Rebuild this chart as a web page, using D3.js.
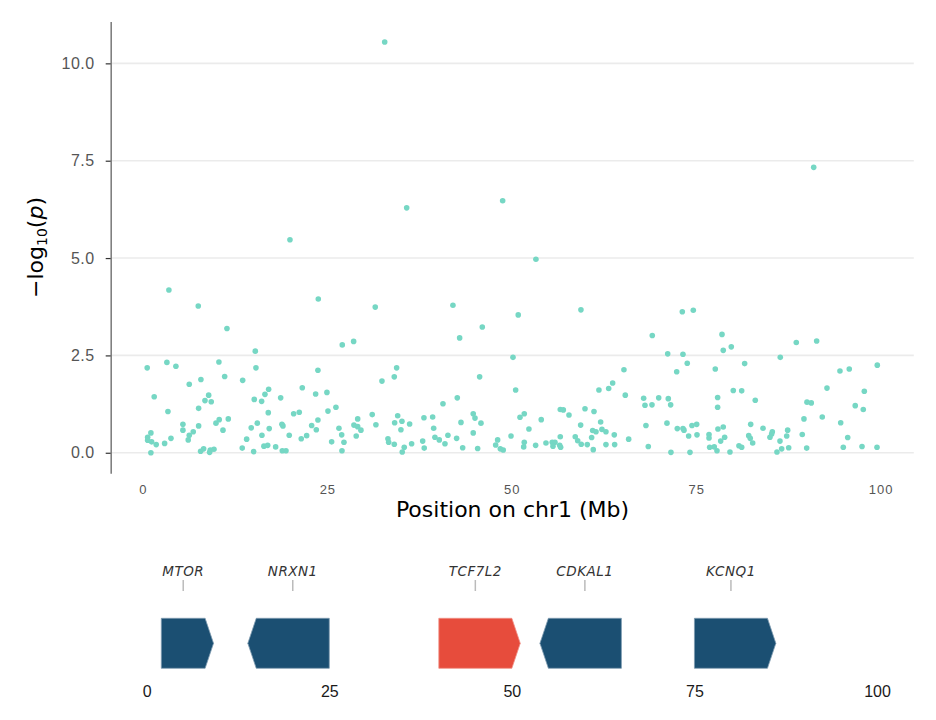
<!DOCTYPE html>
<html>
<head>
<meta charset="utf-8">
<script src="https://cdn.jsdelivr.net/npm/d3@7"></script>
<style>
  body { margin: 0; background: #fff; }
  svg { font-family: "DejaVu Sans", sans-serif; display: block; }
</style>
</head>
<body>
<svg id="chart" width="936" height="720"></svg>
<script>
// SNP positions (Mb) and -log10(p)
var posMb = [
  0.58, 3.25, 4.47, 1.53, 3.39, 6.28, 7.86, 10.30, 11.08, 8.91, 8.41, 9.26, 7.55, 5.42, 5.42, 6.82, 6.28, 7.55, 6.14, 0.64,
  1.08, 0.64, 1.18, 1.80, 2.94, 3.80, 1.08, 7.82, 8.23, 9.04, 9.13, 9.63, 9.90, 10.34, 10.85, 11.57, 13.52, 15.23, 15.32, 15.09,
  16.09, 16.54, 17.04, 16.99, 15.50, 14.68, 14.06, 13.46, 15.01, 16.13, 17.12, 16.40, 16.91, 17.99, 18.89, 19.39, 19.83, 18.84, 18.98, 18.67,
  20.43, 21.19, 21.46, 22.19, 21.60, 23.41, 23.72, 23.72, 22.87, 23.50, 27.02, 28.56, 42.93, 50.16, 24.94, 25.08, 26.16, 25.58, 26.57, 26.94,
  27.25, 26.98, 29.11, 28.60, 29.11, 29.55, 28.91, 31.08, 31.58, 32.40, 34.07, 34.39, 34.53, 34.12, 35.11, 34.97, 36.15, 33.21, 33.31, 34.07,
  35.42, 35.15, 36.42, 38.09, 39.27, 39.41, 37.92, 38.13, 39.58, 40.17, 40.94, 41.34, 40.67, 42.61, 43.11, 42.52, 43.34, 44.77, 45.01, 45.82,
  44.77, 45.37, 45.64, 47.81, 48.08, 48.44, 48.84, 49.89, 50.52, 51.11, 69.04, 51.69, 52.32, 51.69, 51.61, 53.23, 53.99, 54.63, 55.48, 55.85,
  55.58, 56.57, 56.49, 56.62, 56.57, 56.98, 57.75, 58.60, 58.93, 59.41, 60.23, 59.33, 59.92, 61.14, 60.82, 61.04, 60.96, 61.41, 62.04, 62.22,
  62.76, 62.76, 63.89, 63.94, 65.84, 61.81, 63.13, 63.67, 65.20, 65.38, 67.87, 68.05, 69.00, 69.91, 71.21, 71.53, 68.18, 68.50, 71.03, 71.57,
  72.43, 73.20, 73.34, 73.97, 74.42, 75.06, 75.10, 74.15, 76.73, 76.73, 76.82, 77.81, 77.94, 71.13, 73.20, 73.78, 72.35, 77.58, 77.90, 77.90,
  78.49, 78.66, 79.75, 88.56, 91.32, 86.39, 81.56, 80.02, 81.16, 83.00, 82.38, 84.05, 78.66, 78.85, 78.31, 77.44, 79.57, 80.79, 81.16, 82.11,
  82.32, 82.65, 85.31, 85.22, 84.99, 86.35, 86.58, 85.94, 87.26, 87.39, 87.53, 89.37, 89.60, 90.01, 90.59, 92.08, 92.72, 89.97, 94.48, 95.74,
  99.54, 97.78, 96.55, 97.64, 94.58, 95.53, 94.93, 97.47, 99.50,
  3.52, 7.50, 11.39, 19.93, 23.77, 31.49, 32.77, 35.75, 42.02, 46.00, 48.76, 50.87, 53.27, 59.37, 73.11, 74.60, 90.92
];
var logP = [
  2.18, 2.32, 2.22, 1.44, 1.06, 1.76, 1.88, 2.33, 1.96, 1.48, 1.34, 1.31, 1.14, 0.73, 0.58, 0.54, 0.45, 0.69, 0.33, 0.40,
  0.51, 0.32, 0.28, 0.21, 0.24, 0.37, 0.00, 0.04, 0.10, 0.01, 0.07, 0.09, 0.76, 0.85, 0.58, 0.87, 1.86, 2.61, 2.18, 1.37,
  1.32, 1.50, 1.63, 1.03, 0.76, 0.64, 0.35, 0.12, 0.03, 0.45, 0.62, 0.17, 0.19, 0.15, 0.05, 0.05, 0.45, 0.73, 0.69, 1.41,
  1.00, 1.04, 0.36, 0.44, 1.67, 1.51, 2.12, 0.84, 0.70, 0.59, 2.77, 2.86, 2.95, 2.45, 1.55, 1.07, 1.17, 0.28, 0.63, 0.46,
  0.27, 0.05, 0.87, 0.71, 0.67, 0.58, 0.43, 0.98, 0.72, 1.84, 1.95, 2.18, 0.95, 0.77, 0.81, 0.59, 0.74, 0.36, 0.27, 0.22,
  0.14, 0.02, 0.23, 0.90, 0.92, 0.63, 0.30, 0.12, 0.40, 0.33, 0.23, 0.45, 1.26, 1.41, 0.78, 0.37, 0.13, 1.00, 0.89, 0.76,
  0.51, 0.11, 1.95, 0.20, 0.33, 0.10, 0.07, 0.43, 1.61, 0.91, 3.01, 1.00, 0.61, 0.27, 0.15, 0.19, 0.85, 0.25, 0.27, 0.27,
  0.17, 0.41, 0.19, 0.14, 1.11, 1.10, 0.97, 0.41, 0.31, 0.22, 0.21, 0.71, 1.13, 1.06, 0.39, 0.08, 0.57, 0.54, 0.79, 0.60,
  0.54, 0.21, 0.46, 0.21, 0.35, 1.61, 1.65, 1.79, 2.13, 1.48, 1.40, 1.22, 1.23, 1.41, 1.39, 1.23, 0.70, 0.16, 0.76, 0.01,
  0.62, 0.62, 0.58, 0.43, 0.70, 0.73, 0.46, 0.01, 0.47, 0.38, 0.14, 0.05, 0.61, 2.54, 2.53, 2.30, 2.08, 2.15, 1.42, 1.17,
  3.04, 2.63, 2.72, 2.83, 2.87, 2.45, 2.29, 1.60, 1.59, 1.35, 0.73, 0.63, 0.66, 0.40, 0.30, 0.15, 0.02, 0.18, 0.14, 0.44,
  0.37, 0.25, 0.54, 0.48, 0.40, 0.30, 0.10, 0.02, 0.43, 0.58, 0.13, 0.47, 0.87, 1.30, 1.28, 0.92, 1.66, 0.12, 2.10, 2.15,
  2.25, 1.58, 1.21, 1.11, 0.77, 0.39, 0.14, 0.16, 0.14,
  4.18, 3.77, 3.19, 5.47, 3.95, 3.74, 10.55, 6.29, 3.79, 3.23, 6.47, 3.54, 4.97, 3.67, 3.62, 3.66, 7.33
];

var yTicks = [0, 2.5, 5, 7.5, 10];
var xTicks = [0, 25, 50, 75, 100];

// gene track
var geneNames  = ["MTOR", "NRXN1", "TCF7L2", "CDKAL1", "KCNQ1"];
var geneStart  = [2, 15, 40, 55, 75];
var geneEnd    = [8, 25, 50, 65, 85];
var geneStrand = [1, -1, 1, -1, 1];
var geneHit    = [false, false, true, false, false];
var geneTicks  = [0, 25, 50, 75, 100];

var svg = d3.select("#chart");

var points = posMb.map(function (d, i) { return {pos: d, p: logP[i]}; });

// ggplot-like 5% expansion
function expand(ext) {
  var pad = (ext[1] - ext[0]) * 0.05;
  return [ext[0] - pad, ext[1] + pad];
}

var x = d3.scaleLinear().domain(expand(d3.extent(posMb))).range([110.7, 913.8]);
var y = d3.scaleLinear().domain(expand(d3.extent(logP))).range([473.3, 21.4]);

// grid
svg.append("g").selectAll("line").data(yTicks).enter().append("line")
  .attr("x1", x.range()[0]).attr("x2", x.range()[1])
  .attr("y1", function (d) { return y(d); }).attr("y2", function (d) { return y(d); })
  .attr("stroke", "#ebebeb").attr("stroke-width", 1.6);

// y axis
var yAxis = svg.append("g")
  .attr("transform", "translate(" + x.range()[0] + ",0)")
  .call(d3.axisLeft(y).tickValues(yTicks).tickFormat(d3.format(".1f")).tickSize(5).tickSizeOuter(0).tickPadding(11));
yAxis.select(".domain").attr("stroke", "#808080").attr("stroke-width", 1.6);
yAxis.selectAll(".tick line").attr("stroke", "#333").attr("stroke-width", 1.2);
yAxis.selectAll("text").attr("fill", "#555").style("font-size", "16px").style("letter-spacing", "0.5px");

// x axis (labels only)
var xAxis = svg.append("g")
  .attr("transform", "translate(0," + y.range()[0] + ")")
  .call(d3.axisBottom(x).tickValues(xTicks).tickSize(0).tickPadding(11));
xAxis.select(".domain").remove();
xAxis.selectAll("text").attr("fill", "#555").style("font-size", "13px").style("letter-spacing", "1px");

// points
svg.append("g").selectAll("circle").data(points).enter().append("circle")
  .attr("cx", function (d) { return x(d.pos); })
  .attr("cy", function (d) { return y(d.p); })
  .attr("r", 2.8)
  .attr("fill", "#76D7C4");

// titles
svg.append("text")
  .attr("x", 512.5).attr("y", 517)
  .attr("text-anchor", "middle")
  .style("font-size", "22px").attr("fill", "#000")
  .text("Position on chr1 (Mb)");

var yt = svg.append("text")
  .attr("transform", "translate(43,247.5) rotate(-90)")
  .attr("text-anchor", "middle")
  .style("font-size", "22px").attr("fill", "#000");
yt.append("tspan").text("\u2212log");
yt.append("tspan").attr("font-size", "14px").attr("dy", "4").text("10");
yt.append("tspan").attr("dy", "-4").text("(");
yt.append("tspan").attr("font-style", "italic").text("p");
yt.append("tspan").text(")");

// gene track
var xg = d3.scaleLinear().domain([0, 100]).range([146.7, 877]);
var gTop = 618.3, gBot = 668.3, head = 8.4;

var genes = geneNames.map(function (n, i) {
  return {name: n, start: geneStart[i], end: geneEnd[i], strand: geneStrand[i], hit: geneHit[i]};
});

function arrowPath(g) {
  var a = xg(g.start), b = xg(g.end), mid = (gTop + gBot) / 2;
  var p = d3.path();
  if (g.strand > 0) {
    p.moveTo(a, gTop); p.lineTo(b, gTop); p.lineTo(b + head, mid);
    p.lineTo(b, gBot); p.lineTo(a, gBot);
  } else {
    p.moveTo(b, gTop); p.lineTo(a, gTop); p.lineTo(a - head, mid);
    p.lineTo(a, gBot); p.lineTo(b, gBot);
  }
  p.closePath();
  return p.toString();
}

svg.append("g").selectAll("path").data(genes).enter().append("path")
  .attr("d", arrowPath)
  .attr("fill", function (d) { return d.hit ? "#E74C3C" : "#1B4F72"; })
  .attr("stroke", function (d) { return d.hit ? "#f08f85" : "#7d9bb0"; })
  .attr("stroke-width", 0.8);

var lab = svg.append("g").selectAll("g").data(genes).enter().append("g");
lab.append("text")
  .attr("x", function (d) { return xg((d.start + d.end) / 2); })
  .attr("y", 576)
  .attr("text-anchor", "middle")
  .attr("font-style", "italic")
  .style("font-size", "13.5px").style("letter-spacing", "0.5px")
  .attr("fill", "#333")
  .text(function (d) { return d.name; });
lab.append("line")
  .attr("x1", function (d) { return xg((d.start + d.end) / 2); })
  .attr("x2", function (d) { return xg((d.start + d.end) / 2); })
  .attr("y1", 580).attr("y2", 591)
  .attr("stroke", "#bbb").attr("stroke-width", 1.5);

var gAxis = svg.append("g")
  .attr("transform", "translate(0,680)")
  .call(d3.axisBottom(xg).tickValues(geneTicks).tickSize(0).tickPadding(6));
gAxis.select(".domain").remove();
gAxis.selectAll("text").attr("fill", "#1a1a1a").style("font-size", "16px");
</script>
</body>
</html>
